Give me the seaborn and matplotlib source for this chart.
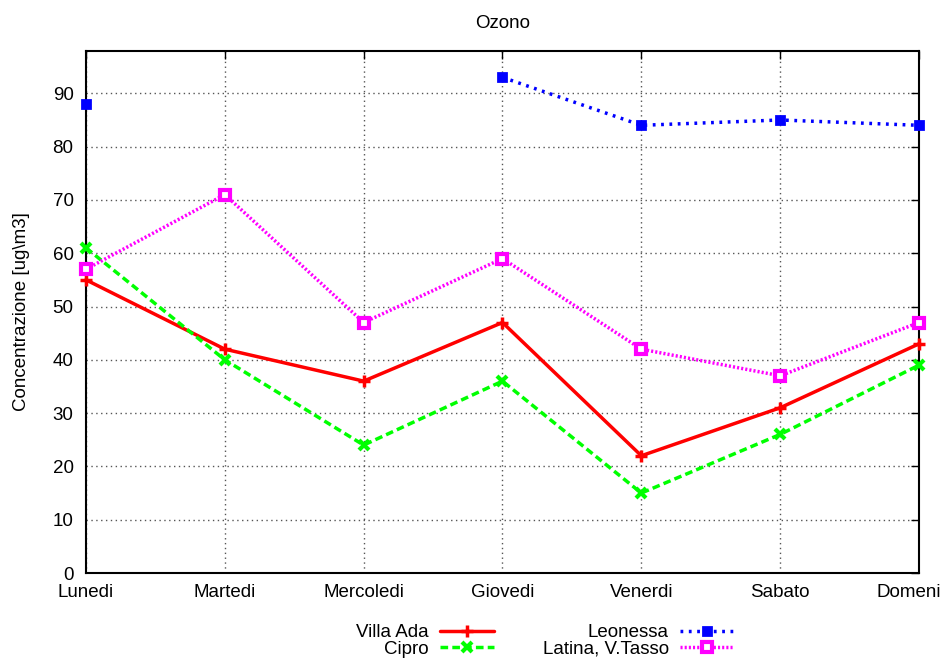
import numpy as np
import pandas as pd
import matplotlib
matplotlib.use("Agg")
import matplotlib.pyplot as plt
from matplotlib.lines import Line2D
from matplotlib.transforms import ScaledTranslation, blended_transform_factory
import seaborn as sns

days = ["Lunedi", "Martedi", "Mercoledi", "Giovedi", "Venerdi", "Sabato", "Domeni"]
villa_ada = [55, 42, 36, 47, 22, 31, 43]
cipro = [61, 40, 24, 36, 15, 26, 39]
leonessa = [88, np.nan, np.nan, 93, 84, 85, 84]
latina = [57, 71, 47, 59, 42, 37, 47]
yticks = [0, 10, 20, 30, 40, 50, 60, 70, 80, 90]

sns.set_style("white")
plt.rcParams['font.family'] = ['Liberation Sans', 'DejaVu Sans']
plt.rcParams['text.color'] = 'black'
plt.rcParams['axes.labelcolor'] = 'black'
plt.rcParams['xtick.color'] = 'black'
plt.rcParams['ytick.color'] = 'black'
FS = 13.5

fig = plt.figure(figsize=(9.44, 6.62), dpi=100)
ax = fig.add_axes([86/944, 1-573/662, (919-86)/944, (573-50.7)/662])

series = [
    ("Villa Ada", villa_ada, dict(color="#ff0000", linestyle="-", lw=2.5, marker="+", ms=8, mew=2.5)),
    ("Cipro", cipro, dict(color="#00ff00", linestyle=(0, (2.2, 1.2)), lw=2.5, marker="x", ms=7, mew=3)),
    ("Leonessa", leonessa, dict(color="#0000ff", linestyle=(0, (0.8, 1.6)), lw=2.5, marker="s", ms=6, mew=2)),
    ("Latina, V.Tasso", latina, dict(color="#ff00ff", linestyle=(0, (0.6, 0.6)), lw=2.5, marker="s", ms=7.5, mew=3, mfc="white")),
]

handles = []
for name, vals, st in series:
    vals = np.array(vals, dtype=float)
    x = np.arange(len(vals))
    seg = np.cumsum(np.isnan(vals))
    df = pd.DataFrame({"x": x, "y": vals, "seg": seg}).dropna()
    sns.lineplot(data=df, x="x", y="y", units="seg", estimator=None, ax=ax,
                 color=st["color"], linestyle=st["linestyle"], lw=st["lw"],
                 marker=st["marker"], markersize=st["ms"], markeredgewidth=st["mew"],
                 markeredgecolor=st["color"], markerfacecolor=st.get("mfc", st["color"]),
                 clip_on=False, legend=False, zorder=3)
    handles.append(Line2D([], [], color=st["color"], linestyle=st["linestyle"], lw=st["lw"],
                          marker=st["marker"], markersize=st["ms"], markeredgewidth=st["mew"],
                          markeredgecolor=st["color"], markerfacecolor=st.get("mfc", st["color"]),
                          label=name))

ax.set_xlim(0, 6)
ax.set_ylim(0, 98)
ax.set_xticks(range(len(days)))
ax.set_xticklabels(days[:-1] + [""], fontsize=FS)
ax.set_yticks(yticks)
ax.set_yticklabels([str(t) for t in yticks], fontsize=FS)
ax.set_xlabel("")
ax.set_ylabel("Concentrazione [ug\\m3]", fontsize=FS, labelpad=16, color="black")
ax.set_title("Ozono", fontsize=FS, pad=16, color="black")

# last x label sits against the right edge as in the reference
trans = (blended_transform_factory(ax.transData, ax.transAxes)
         + ScaledTranslation(22/100, -8/72, fig.dpi_scale_trans))
ax.text(len(days) - 1, 0, days[-1], transform=trans, ha="right", va="top",
        fontsize=FS, color="black")

ax.grid(True, color="#555555", linestyle=(0, (1, 2.5)), lw=1.0)
ax.tick_params(direction="in", length=6, width=1, top=True, right=True, colors="black")
ax.tick_params(axis="y", pad=9)
ax.tick_params(axis="x", pad=8)
for sp in ax.spines.values():
    sp.set_visible(True)
    sp.set_color("black")
    sp.set_linewidth(1.5)

leg = fig.legend(handles=handles, ncol=2, markerfirst=False, frameon=False,
                 loc="center", bbox_to_anchor=(545/944, 1-641/662), fontsize=FS,
                 handlelength=2.9, columnspacing=2.6, labelspacing=-0.05, handletextpad=0.6,
                 labelcolor="black")

fig.savefig("out.png", dpi=100)
